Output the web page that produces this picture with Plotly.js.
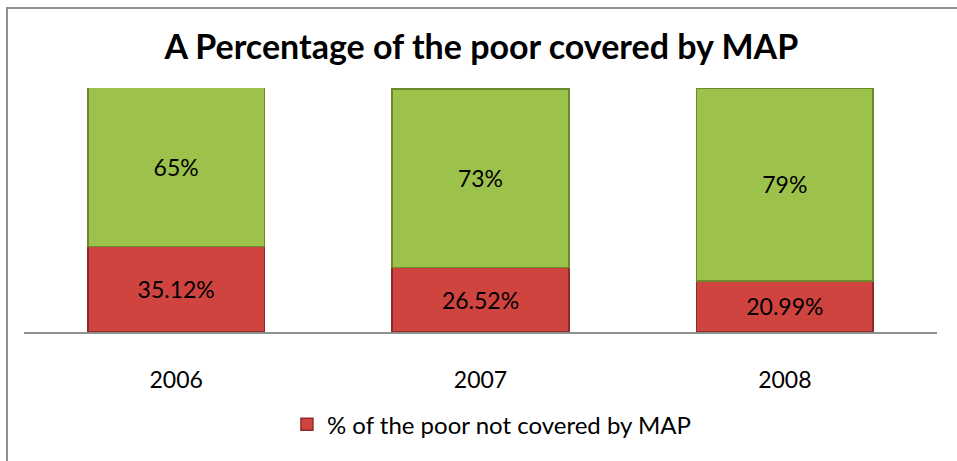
<!DOCTYPE html>
<html>
<head>
<meta charset="utf-8">
<script src="https://cdn.plot.ly/plotly-3.0.1.min.js"></script>
<style>
  html, body { margin: 0; padding: 0; background: #fff; }
  #chart { width: 957px; height: 461px; position: relative; }
  #frame { position: absolute; left: 6px; top: 7px; width: 960px; height: 470px;
           border-left: 2px solid #8f8f8f; border-top: 2px solid #8f8f8f; pointer-events: none; }
</style>
</head>
<body>
<div id="chart"></div>
<div id="frame"></div>
<script>
const years = ['2006', '2007', '2008'];
const notCovered = [35.12, 26.52, 20.99];
const covered = [65, 73, 79];
const notCoveredLabels = ['35.12%', '26.52%', '20.99%'];
const coveredLabels = ['65%', '73%', '79%'];

const font = 'Lato, "Open Sans", sans-serif';

const traces = [
  {
    type: 'bar', x: years, y: notCovered, name: '% of the poor not covered by MAP',
    text: notCoveredLabels, textposition: 'inside', insidetextanchor: 'middle',
    textfont: { family: font, size: 23, color: '#000' },
    marker: { color: '#d0443f', line: { color: '#8e2b28', width: 1.5 } },
    hoverinfo: 'skip'
  },
  {
    type: 'bar', x: years, y: covered, name: '% covered', showlegend: false,
    text: coveredLabels, textposition: 'inside', insidetextanchor: 'middle',
    textfont: { family: font, size: 23, color: '#000' },
    marker: { color: '#9dc24b', line: { color: '#6b8a2c', width: 1.5 } },
    hoverinfo: 'skip'
  }
];

const layout = {
  width: 957, height: 461,
  margin: { l: 24, r: 20, t: 88, b: 129 },
  paper_bgcolor: '#fff', plot_bgcolor: '#fff',
  barmode: 'stack', bargap: 0.42,
  title: { text: '<b>A Percentage of the poor covered by MAP</b>',
           font: { family: font, size: 34, color: '#000' },
           x: 0.503, xanchor: 'center', y: 0.898, yanchor: 'middle' },
  xaxis: { type: 'category', showline: true, linecolor: '#8f8f8f', linewidth: 2,
           ticks: 'outside', ticklen: 26, tickcolor: 'rgba(0,0,0,0)',
           tickfont: { family: font, size: 23, color: '#000' }, showgrid: false, zeroline: false },
  yaxis: { range: [0, 100], visible: false, showgrid: false, zeroline: false },
  showlegend: true,
  legend: { orientation: 'h', x: 0.512, xanchor: 'center', y: -0.38, yanchor: 'middle',
            itemwidth: 30, font: { family: font, size: 24, color: '#000' } },
  uniformtext: { mode: false }
};

Plotly.newPlot('chart', traces, layout, { displayModeBar: false, staticPlot: true });
</script>
</body>
</html>
